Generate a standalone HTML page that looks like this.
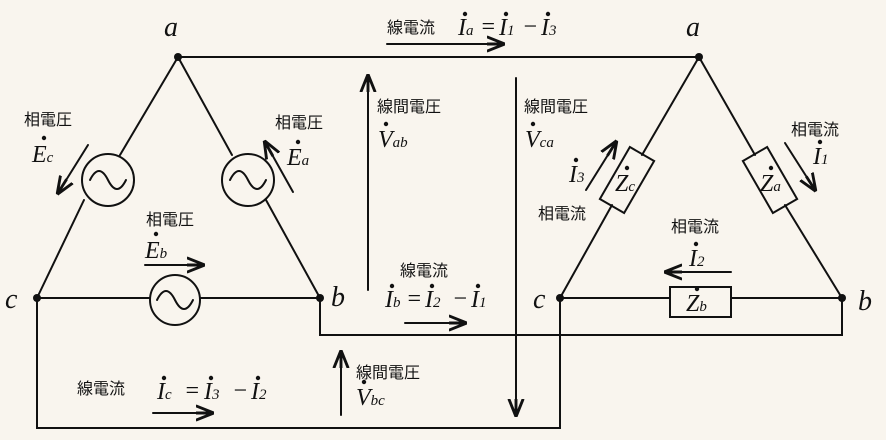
<!DOCTYPE html>
<html><head><meta charset="utf-8"><style>
html,body{margin:0;padding:0;background:#f9f5ee}
svg{display:block}
text{font-family:"Liberation Sans","Noto Sans CJK JP",sans-serif;fill:#111}
.m{font-family:"Liberation Serif",serif;font-style:italic}
</style></head><body>
<svg width="886" height="440" viewBox="0 0 886 440" xmlns="http://www.w3.org/2000/svg">
<rect width="886" height="440" fill="#f9f5ee"/>
<defs><marker id="ar" viewBox="0 0 10 10" refX="9" refY="5" markerWidth="9" markerHeight="9" orient="auto"><path d="M0,1 L10,5 L0,9 M0,5 L10,5" fill="none" stroke="#111" stroke-width="1.6"/></marker></defs>
<g stroke="#111" stroke-width="2" fill="none" stroke-linecap="round">
<line x1="178" y1="57" x2="120" y2="155"/>
<line x1="84" y1="200" x2="37" y2="298"/>
<line x1="178" y1="57" x2="232" y2="155"/>
<line x1="266" y1="200" x2="320" y2="298"/>
<line x1="37" y1="298" x2="150" y2="298"/>
<line x1="200" y1="298" x2="320" y2="298"/>
<circle cx="108" cy="180" r="26"/><path d="M90,180 q9,-18 18,0 t18,0"/>
<circle cx="248" cy="180" r="26"/><path d="M230,180 q9,-18 18,0 t18,0"/>
<circle cx="175" cy="300" r="25"/><path d="M157,300 q9,-18 18,0 t18,0"/>
<line x1="178" y1="57" x2="699" y2="57"/>
<polyline points="320,298 320,335 842,335 842,298"/>
<polyline points="37,298 37,428 560,428 560,298"/>
<line x1="699" y1="57" x2="642" y2="155"/>
<line x1="612" y1="205" x2="560" y2="298"/>
<line x1="699" y1="57" x2="755" y2="155"/>
<line x1="785" y1="205" x2="842" y2="298"/>
<line x1="560" y1="298" x2="670" y2="298"/>
<line x1="731" y1="298" x2="842" y2="298"/>
<rect x="670" y="287" width="61" height="30"/>
<rect x="-14" y="-30" width="28" height="60" transform="translate(627,180) rotate(30)"/>
<rect x="-14" y="-30" width="28" height="60" transform="translate(770,180) rotate(-30)"/>
<line x1="368" y1="290" x2="368" y2="76" marker-end="url(#ar)"/>
<line x1="516" y1="78" x2="516" y2="415" marker-end="url(#ar)"/>
<line x1="341" y1="415" x2="341" y2="352" marker-end="url(#ar)"/>
<line x1="88" y1="145" x2="58" y2="193" marker-end="url(#ar)"/>
<line x1="293" y1="192" x2="265" y2="142" marker-end="url(#ar)"/>
<line x1="145" y1="265" x2="203" y2="265" marker-end="url(#ar)"/>
<line x1="387" y1="44" x2="503" y2="44" marker-end="url(#ar)"/>
<line x1="405" y1="323" x2="465" y2="323" marker-end="url(#ar)"/>
<line x1="153" y1="413" x2="212" y2="413" marker-end="url(#ar)"/>
<line x1="586" y1="190" x2="616" y2="142" marker-end="url(#ar)"/>
<line x1="785" y1="143" x2="815" y2="190" marker-end="url(#ar)"/>
<line x1="731" y1="272" x2="666" y2="272" marker-end="url(#ar)"/>
</g>
<g fill="#111">
<circle cx="178" cy="57" r="4"/><circle cx="37" cy="298" r="4"/><circle cx="320" cy="298" r="4"/>
<circle cx="699" cy="57" r="4"/><circle cx="560" cy="298" r="4"/><circle cx="842" cy="298" r="4"/>
<circle cx="44" cy="138" r="2.2"/><circle cx="298" cy="142" r="2.2"/><circle cx="156" cy="234" r="2.2"/>
<circle cx="386" cy="124" r="2.2"/><circle cx="533" cy="124" r="2.2"/><circle cx="364" cy="382" r="2.2"/>
<circle cx="465" cy="14" r="2.2"/><circle cx="506" cy="14" r="2.2"/><circle cx="548" cy="14" r="2.2"/>
<circle cx="392" cy="286" r="2.2"/><circle cx="432" cy="286" r="2.2"/><circle cx="478" cy="286" r="2.2"/>
<circle cx="164" cy="378" r="2.2"/><circle cx="211" cy="378" r="2.2"/><circle cx="258" cy="378" r="2.2"/>
<circle cx="576" cy="160" r="2.2"/><circle cx="820" cy="142" r="2.2"/><circle cx="696" cy="244" r="2.2"/>
<circle cx="697" cy="289" r="2.2"/><circle cx="627" cy="168" r="2.2"/><circle cx="771" cy="168" r="2.2"/>
</g>
<g font-size="28">
<text x="164" y="36" class="m">a</text><text x="686" y="36" class="m">a</text>
<text x="5" y="308" class="m">c</text><text x="533" y="308" class="m">c</text>
<text x="331" y="306" class="m">b</text><text x="858" y="310" class="m">b</text>
</g>
<g font-size="16">
<text x="24" y="125">相電圧</text>
<text x="275" y="128">相電圧</text>
<text x="146" y="225">相電圧</text>
<text x="377" y="112">線間電圧</text>
<text x="524" y="112">線間電圧</text>
<text x="387" y="33">線電流</text>
<text x="400" y="276">線電流</text>
<text x="77" y="394">線電流</text>
<text x="356" y="378">線間電圧</text>
<text x="791" y="135">相電流</text>
<text x="538" y="219">相電流</text>
<text x="671" y="232">相電流</text>
</g>
<g font-size="24">
<text x="32" y="162" class="m">E<tspan font-size="15">c</tspan></text>
<text x="287" y="165" class="m">E<tspan font-size="15">a</tspan></text>
<text x="145" y="258" class="m">E<tspan font-size="15">b</tspan></text>
<text x="378" y="147" class="m">V<tspan font-size="15">ab</tspan></text>
<text x="525" y="147" class="m">V<tspan font-size="15">ca</tspan></text>
<text x="356" y="405" class="m">V<tspan font-size="15">bc</tspan></text>
<text x="458" y="35" class="m">I<tspan font-size="15">a</tspan></text><text x="480" y="34" class="m">=</text><text x="499" y="35" class="m">I<tspan font-size="15">1</tspan></text><text x="522" y="34" class="m">−</text><text x="541" y="35" class="m">I<tspan font-size="15">3</tspan></text>
<text x="385" y="307" class="m">I<tspan font-size="15">b</tspan></text><text x="406" y="306" class="m">=</text><text x="425" y="307" class="m">I<tspan font-size="15">2</tspan></text><text x="452" y="306" class="m">−</text><text x="471" y="307" class="m">I<tspan font-size="15">1</tspan></text>
<text x="157" y="399" class="m">I<tspan font-size="15">c</tspan></text><text x="184" y="398" class="m">=</text><text x="204" y="399" class="m">I<tspan font-size="15">3</tspan></text><text x="232" y="398" class="m">−</text><text x="251" y="399" class="m">I<tspan font-size="15">2</tspan></text>
<text x="569" y="182" class="m">I<tspan font-size="15">3</tspan></text>
<text x="813" y="164" class="m">I<tspan font-size="15">1</tspan></text>
<text x="689" y="266" class="m">I<tspan font-size="15">2</tspan></text>
<text x="686" y="311" class="m">Z<tspan font-size="15">b</tspan></text>
<text x="615" y="191" class="m">Z<tspan font-size="15">c</tspan></text>
<text x="760" y="191" class="m">Z<tspan font-size="15">a</tspan></text>
</g>
</svg>
</body></html>
